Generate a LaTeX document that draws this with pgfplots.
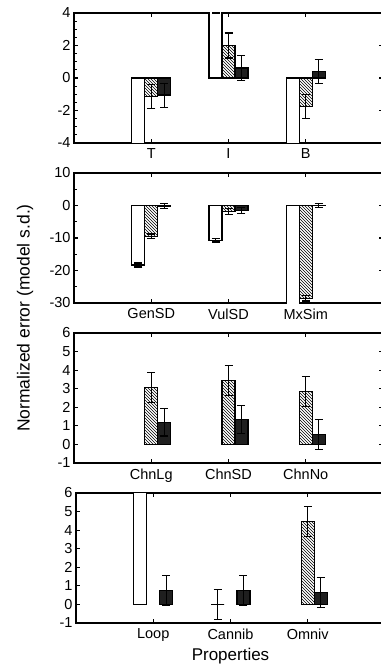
\documentclass[border=0pt]{standalone}
\usepackage{fontspec}
\setmainfont{Liberation Sans}
\usepackage{pgfplots}
\pgfplotsset{compat=1.18}
\usetikzlibrary{patterns}

% bars are placed at category -0.168 (open), category (hatched), category +0.168 (solid)
\pgfplotsset{
  panel/.style={
    scale only axis, width=309pt, height=130pt,
    xmin=0, xmax=4, xtick={1,2,3},
    axis line style={line width=1.2pt},
    tick style={line width=1.1pt, black},
    major tick length=4pt, minor tick length=2.5pt,
    tick align=inside,
    ticklabel style={font=\fontsize{14.5}{16}\selectfont},
    xticklabel style={yshift=-2pt},
    /pgf/number format/assume math mode=true,
    clip=true,
  },
  wbar/.style={ybar, bar width=13pt, bar shift=0pt, draw=black, fill=white, line width=1.2pt},
  hbar/.style={ybar, bar width=13pt, bar shift=0pt, draw=black, pattern=north west lines, line width=1.2pt},
  bbar/.style={ybar, bar width=13pt, bar shift=0pt, draw=black, fill=black!88, line width=1.2pt},
  eb/.style={error bars/.cd, y dir=both, y explicit,
    error bar style={line width=1.2pt, black},
    error mark options={rotate=90, mark size=4pt, line width=1.2pt, black}},
  ebthin/.style={error bars/.cd, y dir=both, y explicit,
    error bar style={line width=0.7pt, black},
    error mark options={rotate=90, mark size=4pt, line width=0.7pt, black}},
}

\begin{document}
\begin{tikzpicture}

% ---------- Panel 1 ----------
\begin{axis}[panel, at={(74pt,-13pt)}, anchor=north west,
  ymin=-4, ymax=4, ytick={-4,-2,0,2,4}, minor y tick num=3,
  xticklabels={T,I,B}]
\addplot[wbar, eb] coordinates {(0.832,-6) +- (0,0) (1.832,4.8) +- (0,0.8) (2.832,-6) +- (0,0)};
\addplot[hbar, eb] coordinates {(1,-1.13) +- (0,0.74) (2,2.0) +- (0,0.77) (3,-1.76) +- (0,0.74)};
\addplot[bbar, ebthin] coordinates {(1.168,-1.05) +- (0,0.75)};
\addplot[bbar, eb] coordinates {(2.168,0.62) +- (0,0.77) (3.168,0.40) +- (0,0.74)};
\end{axis}

% ---------- Panel 2 ----------
\begin{axis}[panel, at={(74pt,-173pt)}, anchor=north west,
  ymin=-30, ymax=10, ytick={-30,-20,-10,0,10}, minor y tick num=1,
  xticklabels={GenSD,VulSD,MxSim}]
\addplot[wbar, eb] coordinates {(0.832,-18.3) +- (0,0.6) (1.832,-10.7) +- (0,0.5) (2.832,-40) +- (0,0)};
\addplot[hbar, eb] coordinates {(1,-9.5) +- (0,0.75) (2,-1.9) +- (0,0.9) (3,-28.6) +- (0,0.8)};
\addplot[bbar, eb] coordinates {(1.168,-0.2) +- (0,0.8) (2.168,-1.6) +- (0,0.9)};
\addplot[bbar, ebthin] coordinates {(3.168,0.1) +- (0,0.7)};
\end{axis}

% ---------- Panel 3 ----------
\begin{axis}[panel, at={(74pt,-333pt)}, anchor=north west,
  ymin=-1, ymax=6, ytick={-1,0,1,2,3,4,5,6},
  xticklabels={ChnLg,ChnSD,ChnNo}]
\addplot[hbar, eb] coordinates {(1,3.06) +- (0,0.82) (2,3.44) +- (0,0.8) (3,2.85) +- (0,0.8)};
\addplot[bbar, eb] coordinates {(1.168,1.19) +- (0,0.74) (2.168,1.33) +- (0,0.76) (3.168,0.54) +- (0,0.8)};
\end{axis}

% ---------- Panel 4 ----------
\begin{axis}[panel, at={(76pt,-493pt)}, anchor=north west,
  ymin=-1, ymax=6, ytick={-1,0,1,2,3,4,5,6},
  xticklabels={Loop,Cannib,Omniv},
  xlabel={Properties},
  xlabel style={font=\fontsize{17}{20}\selectfont, yshift=0pt}]
\addplot[wbar, line width=0.8pt, ebthin] coordinates {(0.832,9) +- (0,0) (1.832,0) +- (0,0.8)};
\addplot[hbar, eb] coordinates {(3,4.47) +- (0,0.82)};
\addplot[bbar, eb] coordinates {(1.168,0.74) +- (0,0.8) (3.168,0.63) +- (0,0.8)};
\addplot[bbar, ebthin] coordinates {(2.168,0.74) +- (0,0.8)};
\end{axis}

\node[rotate=90, font=\fontsize{17.5}{20}\selectfont] at (25pt,-318pt) {Normalized error (model s.d.)};

\pgfresetboundingbox
\path[use as bounding box] (0,0) rectangle (380pt,-666pt);
\end{tikzpicture}
\end{document}
